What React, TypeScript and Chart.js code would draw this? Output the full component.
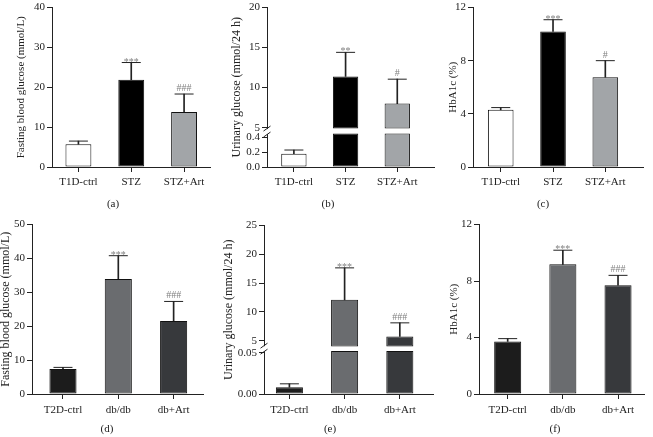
import React, { useEffect, useRef } from 'react';
import { Chart, registerables } from 'chart.js';

Chart.register(...registerables);

const FONT = '"Liberation Serif", "Times New Roman", Times, serif';
Chart.defaults.font.family = FONT;

// ---------------- Data ----------------
const t1Groups = ['T1D-ctrl', 'STZ', 'STZ+Art'];
const t2Groups = ['T2D-ctrl', 'db/db', 'db+Art'];

// (a) fasting blood glucose, T1D
const fbgT1Mean = [5.7, 21.9, 13.8];
const fbgT1Sd = [0.8, 4.3, 4.5];
const fbgT1Sig = ['', '***', '###'];
const fbgT1Ticks = ['0', '10', '20', '30', '40'];

// (b) urinary glucose, T1D (broken axis)
const ugT1Mean = [0.18, 11.4, 8.0];
const ugT1Sd = [0.05, 3.0, 3.05];
const ugT1Sig = ['', '**', '#'];
const ugT1LowTicks = ['0.0', '0.2', '0.4'];
const ugT1HighTicks = ['5', '10', '15', '20'];

// (c) HbA1c, T1D
const hbT1Mean = [4.3, 10.2, 6.75];
const hbT1Sd = [0.17, 0.88, 1.25];
const hbT1Sig = ['', '***', '#'];
const hbT1Ticks = ['0', '4', '8', '12'];

// (d) fasting blood glucose, T2D
const fbgT2Mean = [7.35, 33.9, 21.5];
const fbgT2Sd = [0.5, 6.9, 5.8];
const fbgT2Sig = ['', '***', '###'];
const fbgT2Ticks = ['0', '10', '20', '30', '40', '50'];

// (e) urinary glucose, T2D (broken axis)
const ugT2Mean = [0.0083, 12.1, 5.76];
const ugT2Sd = [0.004, 5.55, 2.35];
const ugT2Sig = ['', '***', '###'];
const ugT2LowTicks = ['0.00', '0.05'];
const ugT2HighTicks = ['5', '10', '15', '20', '25'];

// (f) HbA1c, T2D
const hbT2Mean = [3.72, 9.18, 7.7];
const hbT2Sd = [0.2, 1.0, 0.7];
const hbT2Sig = ['', '***', '###'];
const hbT2Ticks = ['0', '4', '8', '12'];

const fbgTitle = 'Fasting blood glucose (mmol/L)';
const ugTitle = 'Urinary glucose (mmol/24 h)';
const hbTitle = 'HbA1c (%)';

// ---------------- Styles ----------------
const t1Colors = ['#ffffff', '#000000', '#a2a5a8'];
const t2Colors = ['#1c1c1c', '#6a6c6f', '#37393c'];
const INK = '#222222';

type Box = {
  axisX: number; right: number; top: number; bottom: number;
  titleX: number; titleSize: number; xMin: number; xMax: number;
  labelX: number; labelY: number; xPad: number;
};
type Broken = {
  lowMax: number; lowBarTop: number; highMin: number; highBarBottom: number;
  boundary: number; lowTicks: string[]; highTicks: string[];
};
type PanelDef = {
  groups: string[]; mean: number[]; sd: number[]; sig: string[]; colors: string[];
  yTitle: string; ticks?: string[]; broken?: Broken; box: Box; letter: string;
};

const panels: PanelDef[] = [
  {
    groups: t1Groups, mean: fbgT1Mean, sd: fbgT1Sd, sig: fbgT1Sig, colors: t1Colors,
    yTitle: fbgTitle, ticks: fbgT1Ticks, letter: '(a)',
    box: { axisX: 52, right: 217, top: 5, bottom: 167, titleX: 22, titleSize: 11, xMin: -0.5, xMax: 2.5, labelX: 113, labelY: 203, xPad: 3.5 },
  },
  {
    groups: t1Groups, mean: ugT1Mean, sd: ugT1Sd, sig: ugT1Sig, colors: t1Colors,
    yTitle: ugTitle, letter: '(b)',
    broken: { lowMax: 0.48, lowBarTop: 0.453, highMin: 4.51, highBarBottom: 4.88, boundary: 131, lowTicks: ugT1LowTicks, highTicks: ugT1HighTicks },
    box: { axisX: 267, right: 441, top: 5, bottom: 167, titleX: 237, titleSize: 12, xMin: -0.52, xMax: 2.72, labelX: 328, labelY: 203, xPad: 3.5 },
  },
  {
    groups: t1Groups, mean: hbT1Mean, sd: hbT1Sd, sig: hbT1Sig, colors: t1Colors,
    yTitle: hbTitle, ticks: hbT1Ticks, letter: '(c)',
    box: { axisX: 473, right: 650, top: 5, bottom: 167, titleX: 454, titleSize: 11, xMin: -0.53, xMax: 2.73, labelX: 543, labelY: 203, xPad: 3.5 },
  },
  {
    groups: t2Groups, mean: fbgT2Mean, sd: fbgT2Sd, sig: fbgT2Sig, colors: t2Colors,
    yTitle: fbgTitle, ticks: fbgT2Ticks, letter: '(d)',
    box: { axisX: 32, right: 210, top: 222, bottom: 394, titleX: 6.5, titleSize: 12, xMin: -0.56, xMax: 2.54, labelX: 107, labelY: 428, xPad: 4.5 },
  },
  {
    groups: t2Groups, mean: ugT2Mean, sd: ugT2Sd, sig: ugT2Sig, colors: t2Colors,
    yTitle: ugTitle, letter: '(e)',
    broken: { lowMax: 0.0548, lowBarTop: 0.052, highMin: 3.63, highBarBottom: 4.0, boundary: 348, lowTicks: ugT2LowTicks, highTicks: ugT2HighTicks },
    box: { axisX: 264, right: 440, top: 223, bottom: 394, titleX: 229, titleSize: 12, xMin: -0.46, xMax: 2.61, labelX: 330, labelY: 428, xPad: 4.5 },
  },
  {
    groups: t2Groups, mean: hbT2Mean, sd: hbT2Sd, sig: hbT2Sig, colors: t2Colors,
    yTitle: hbTitle, ticks: hbT2Ticks, letter: '(f)',
    box: { axisX: 479, right: 651, top: 222, bottom: 394, titleX: 455, titleSize: 11, xMin: -0.52, xMax: 2.48, labelX: 555, labelY: 428, xPad: 4.5 },
  },
];

const TOP_PAD = 8;
const RIGHT_PAD = 4;
const XH = 30;
const tickFont = { family: FONT, size: 11 };

function axisFor(p: PanelDef, i: number): string {
  if (!p.broken) return 'y';
  return p.mean[i] <= p.broken.lowMax ? 'yLow' : 'yHigh';
}

function yScale(labels: string[], min: number, max: number, width: number, extra: any) {
  const vals = labels.map((l) => parseFloat(l));
  return {
    type: 'linear',
    position: 'left',
    min,
    max,
    afterBuildTicks: (s: any) => { s.ticks = vals.map((v) => ({ value: v })); },
    afterFit: (s: any) => { s.width = width; },
    ticks: {
      callback: (v: number) => { const k = vals.indexOf(v); return k >= 0 ? labels[k] : ''; },
      font: tickFont, color: INK, padding: 2, autoSkip: false,
    },
    grid: { drawOnChartArea: false, drawTicks: true, tickLength: 5, tickColor: INK, tickWidth: 1 },
    border: { display: true, color: INK, width: 1 },
    ...extra,
  };
}

function PanelChart({ p }: { p: PanelDef }) {
  const ref = useRef<HTMLCanvasElement | null>(null);
  const b = p.box;
  const lh = b.titleSize * 1.2;
  const cl = Math.round(b.titleX - lh / 2);
  const ct = b.top - TOP_PAD;
  const W = b.axisX - cl;
  const cw = b.right - cl + RIGHT_PAD;
  const ch = b.bottom - ct + XH;

  useEffect(() => {
    if (!ref.current) return;
    const idx = p.groups.map((_, i) => i);
    const br = p.broken;
    const datasets: any[] = [];
    const barCommon = {
      type: 'bar', grouped: false, borderColor: '#111', borderWidth: 1, borderSkipped: false,
      barPercentage: 0.49, categoryPercentage: 1,
    };
    if (!br) {
      datasets.push({ ...barCommon, yAxisID: 'y', data: idx.map((i) => ({ x: i, y: p.mean[i] })), backgroundColor: p.colors });
    } else {
      datasets.push({
        ...barCommon, yAxisID: 'yLow',
        data: idx.map((i) => ({ x: i, y: p.mean[i] <= br.lowMax ? p.mean[i] : br.lowBarTop })),
        backgroundColor: p.colors,
      });
      const hi = idx.filter((i) => p.mean[i] > br.lowMax);
      datasets.push({
        ...barCommon, yAxisID: 'yHigh',
        data: hi.map((i) => ({ x: i, y: [br.highBarBottom, p.mean[i]] })),
        backgroundColor: hi.map((i) => p.colors[i]),
      });
    }
    const ids = br ? ['yLow', 'yHigh'] : ['y'];
    for (const id of ids) {
      const sel = idx.filter((i) => axisFor(p, i) === id);
      datasets.push({
        type: 'bar', grouped: false, yAxisID: id, barThickness: 1, backgroundColor: INK, borderWidth: 0,
        data: sel.map((i) => ({ x: i, y: [p.mean[i], p.mean[i] + p.sd[i]] })),
      });
      datasets.push({
        type: 'scatter', yAxisID: id,
        data: sel.map((i) => ({ x: i, y: p.mean[i] + p.sd[i] })),
        pointStyle: 'line', pointRadius: 9.5, pointHoverRadius: 9.5,
        borderColor: INK, pointBorderColor: INK, borderWidth: 1, pointBorderWidth: 1,
      });
    }

    const scales: any = {
      x: {
        type: 'linear', position: 'bottom', min: b.xMin, max: b.xMax, offset: false,
        afterBuildTicks: (s: any) => { s.ticks = idx.map((i) => ({ value: i })); },
        afterFit: (s: any) => { s.height = XH; },
        ticks: {
          callback: (v: number) => p.groups[v] ?? '',
          font: tickFont, color: INK, padding: b.xPad, autoSkip: false, maxRotation: 0, minRotation: 0,
        },
        grid: { offset: false, drawOnChartArea: false, drawTicks: true, tickLength: 5, tickColor: INK, tickWidth: 1 },
        border: { display: true, color: INK, width: 1 },
      },
    };
    const titleOpts = { display: true, text: p.yTitle, font: { family: FONT, size: b.titleSize }, color: INK, padding: 0 };
    if (!br) {
      const t = p.ticks as string[];
      scales.y = yScale(t, parseFloat(t[0]), parseFloat(t[t.length - 1]), W, { title: titleOpts });
    } else {
      const S = W - lh;
      const lowW = b.bottom - br.boundary;
      const highW = br.boundary - b.top;
      scales.yLow = yScale(br.lowTicks, 0, br.lowMax, S, { stack: 'ybrk', stackWeight: lowW });
      scales.yHigh = yScale(br.highTicks, br.highMin, parseFloat(br.highTicks[br.highTicks.length - 1]), S, { stack: 'ybrk', stackWeight: highW });
      scales.yTitle = {
        type: 'linear', position: 'left', display: true,
        afterFit: (s: any) => { s.width = lh; },
        ticks: { display: false },
        grid: { display: false, drawTicks: false },
        border: { display: false },
        title: titleOpts,
      };
    }

    const decor = {
      id: 'decor',
      afterDraw(chart: any) {
        const ctx = chart.ctx;
        const xs = chart.scales.x;
        ctx.save();
        ctx.font = `10px ${FONT}`;
        ctx.fillStyle = '#808080';
        ctx.textAlign = 'center';
        ctx.textBaseline = 'alphabetic';
        p.sig.forEach((s, i) => {
          if (!s) return;
          const ax = chart.scales[axisFor(p, i)];
          const y = ax.getPixelForValue(p.mean[i] + p.sd[i]);
          const off = s.includes('*') ? 2 : -3;
          ctx.fillText(s, xs.getPixelForValue(i), y + off);
        });
        if (br) {
          const low = chart.scales.yLow;
          const x = Math.round(low.right) + 0.5;
          const yb = low.top;
          ctx.fillStyle = '#ffffff';
          ctx.fillRect(x - 2, yb - 2.5, 4, 5);
          ctx.strokeStyle = INK;
          ctx.lineWidth = 1;
          for (const dy of [-3, 3]) {
            ctx.beginPath();
            ctx.moveTo(x - 4, yb + dy + 2.5);
            ctx.lineTo(x + 3, yb + dy - 2.5);
            ctx.stroke();
          }
        }
        ctx.restore();
      },
    };

    const chart = new Chart(ref.current, {
      type: 'bar',
      data: { datasets },
      options: {
        responsive: false,
        animation: false,
        events: [],
        layout: { padding: { top: TOP_PAD, right: RIGHT_PAD, left: 0, bottom: 0 } },
        plugins: { legend: { display: false }, tooltip: { enabled: false }, title: { display: false } },
        scales,
      } as any,
      plugins: [decor],
    } as any);
    return () => chart.destroy();
  }, []);

  return (
    <canvas
      ref={ref}
      width={cw}
      height={ch}
      style={{ position: 'absolute', left: cl, top: ct, width: cw, height: ch }}
    />
  );
}

export default function App() {
  return (
    <div style={{ position: 'absolute', left: 0, top: 0, width: 653, height: 437, overflow: 'hidden', background: '#ffffff' }}>
      {panels.map((p) => <PanelChart key={p.letter} p={p} />)}
      {panels.map((p) => (
        <div
          key={'lbl' + p.letter}
          style={{
            position: 'absolute', left: p.box.labelX - 20, top: p.box.labelY - 7, width: 40, height: 14,
            lineHeight: '14px', textAlign: 'center', fontFamily: FONT, fontSize: 11, color: INK,
          }}
        >
          {p.letter}
        </div>
      ))}
    </div>
  );
}
